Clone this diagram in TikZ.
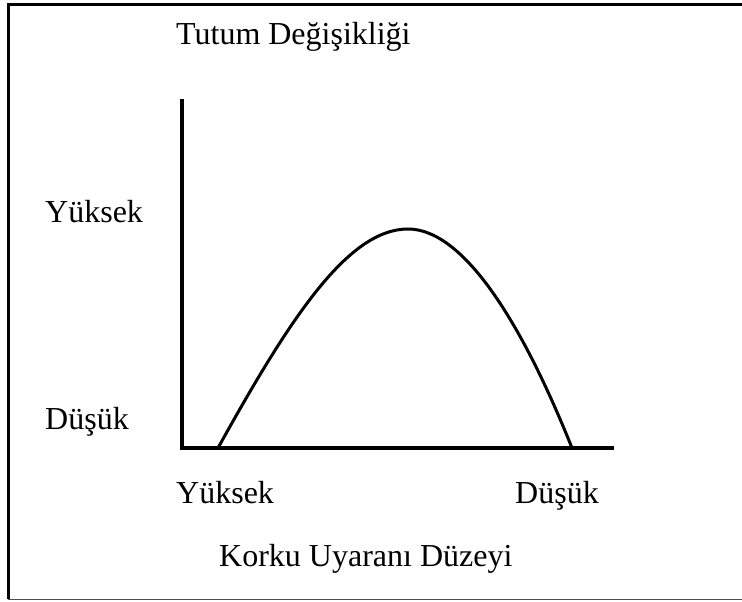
\documentclass[tikz,border=0pt]{standalone}
\usepackage{fontspec}
\setmainfont{Liberation Serif}
\begin{document}
\begin{tikzpicture}[x=1pt,y=-1pt,
  lbl/.style={anchor=base west,inner sep=0pt,font=\fontsize{32}{38}\selectfont},
  axis/.style={line width=3.2pt,line cap=rect},
  curve/.style={line width=3pt}]
\useasboundingbox (0,0) rectangle (742,602);
% frame
\draw[line width=3pt,black] (7,4.5) -- (742,4.5);
\draw[line width=2.5pt,black] (8.5,3) -- (8.5,599);
\draw[line width=1.5pt,black!70] (7.5,599.5) -- (742,599.5);
% axes
\coordinate (ytop) at (182,101);
\coordinate (origin) at (182,448);
\coordinate (xend) at (612,448);
\draw[axis] (ytop) -- (origin) -- (xend);
% curve
\coordinate (cs) at (218,448);
\coordinate (cp) at (408,229);
\coordinate (ce) at (572,448);
\draw[curve] (cs) .. controls (290,318) and (348,229) .. (cp)
  .. controls (462,229) and (520,318) .. (ce);
% labels
\node[lbl] (title) at (176,45) {Tutum Değişikliği};
\node[lbl] (yhigh) at (45,222) {Yüksek};
\node[lbl] (ylow) at (45,429) {Düşük};
\node[lbl] (xhigh) at (176,503) {Yüksek};
\node[lbl] (xlow) at (515,503) {Düşük};
\node[lbl] (xtitle) at (219,566) {Korku Uyaranı Düzeyi};
\end{tikzpicture}
\end{document}
